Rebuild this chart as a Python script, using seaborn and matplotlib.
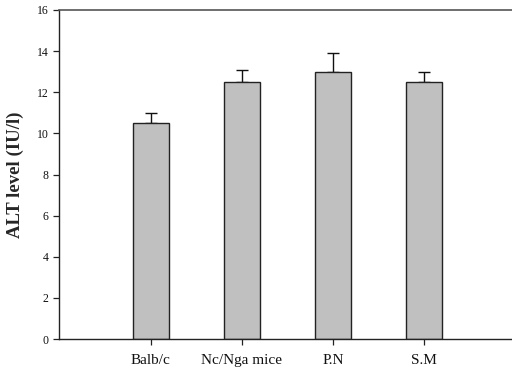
import matplotlib
matplotlib.use("Agg")
import matplotlib.pyplot as plt
import seaborn as sns
import pandas as pd

# ALT measurements per group (mean and error)
groups = ["Balb/c", "Nc/Nga mice", "P.N", "S.M"]
alt_mean = [10.5, 12.5, 13.0, 12.5]
alt_err = [0.5, 0.6, 0.9, 0.5]
y_ticks = [0, 2, 4, 6, 8, 10, 12, 14, 16]

df = pd.DataFrame({"group": groups, "alt": alt_mean, "err": alt_err})

sns.set_theme(style="ticks")
plt.rcParams["font.family"] = ["Liberation Serif", "DejaVu Serif"]

fig = plt.figure(figsize=(5.12, 3.71), dpi=100)
ax = fig.add_axes([59 / 512, 1 - 339 / 371, 1 - 59 / 512, 329 / 371])

sns.barplot(data=df, x="group", y="alt", order=groups, color="#c0c0c0",
            width=0.4, edgecolor="#222222", linewidth=1.0, saturation=1,
            errorbar=None, ax=ax, zorder=2)

# upper-only error bars
ax.errorbar(range(len(groups)), df["alt"], yerr=[[0] * len(groups), df["err"]],
            fmt="none", ecolor="#111111", elinewidth=1.0, capsize=4,
            capthick=1.0, zorder=1)

ax.set_ylim(0, 16)
ax.set_xlim(-1.01, 3.97)
ax.set_yticks(y_ticks)
ax.set_yticklabels([str(t) for t in y_ticks])
ax.set_xlabel("")
ax.set_ylabel("ALT level (IU/l)", fontsize=13.5, fontweight="bold", labelpad=9)
ax.tick_params(axis="both", direction="out", length=4.5, width=0.9,
               colors="#222222", labelcolor="#111111")
ax.tick_params(axis="y", pad=3, labelsize=8.5)
ax.tick_params(axis="x", pad=6, labelsize=11)

for side in ["left", "bottom"]:
    ax.spines[side].set_color("#222222")
    ax.spines[side].set_linewidth(1.0)
ax.spines["top"].set_visible(True)
ax.spines["top"].set_color("#555555")
ax.spines["top"].set_linewidth(1.2)
ax.spines["right"].set_visible(False)

fig.savefig("out.png", dpi=100)
